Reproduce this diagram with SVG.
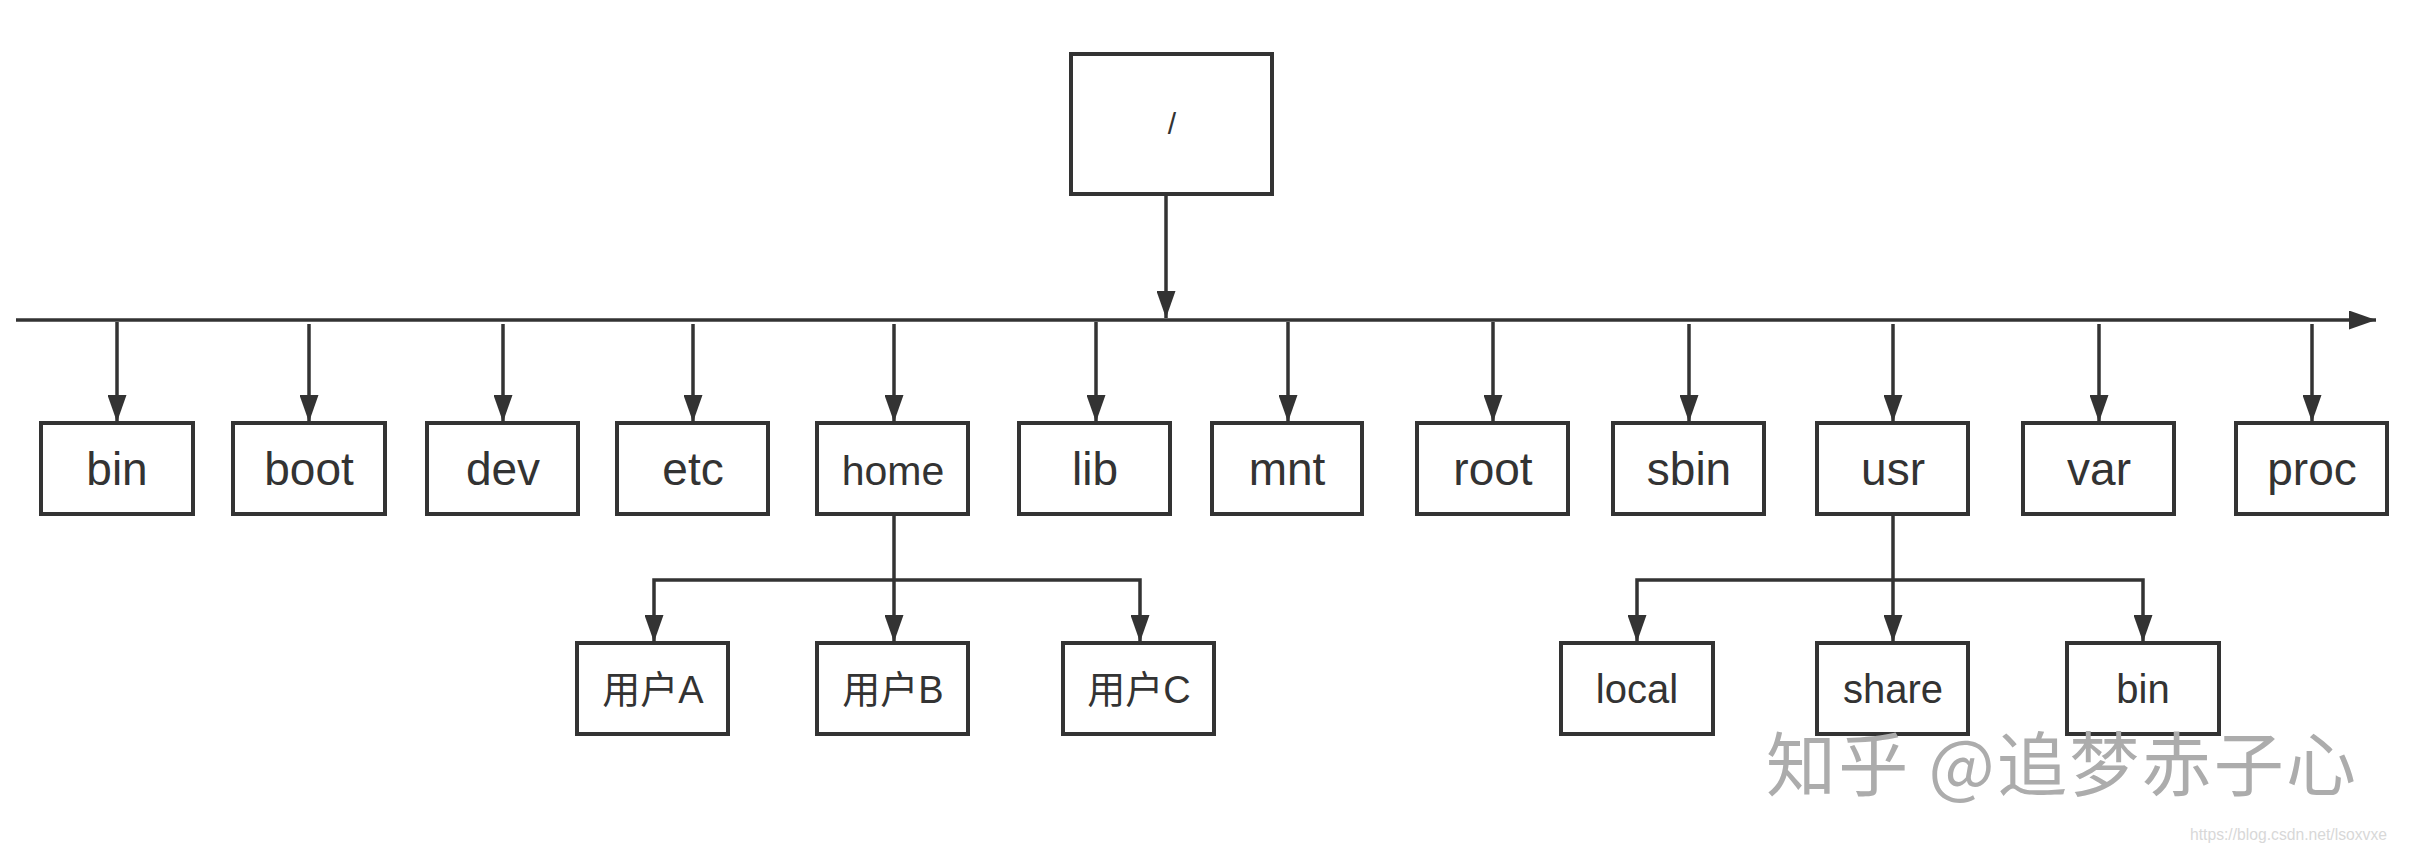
<svg xmlns="http://www.w3.org/2000/svg" width="2418" height="856" viewBox="0 0 2418 856">
<style>
.box{fill:#fff;stroke:#333;stroke-width:4}
.lbl{font-family:"Liberation Sans","Noto Sans CJK SC",sans-serif;fill:#333;text-anchor:middle}
.top{font-size:46px}
.sub{font-size:40px}
.cjk{font-size:38px}
.con{fill:none;stroke:#333;stroke-width:3.5}
.wm{font-family:"Noto Sans CJK SC","Liberation Sans",sans-serif;font-size:70px;fill:#acacac}
.url{font-family:"Liberation Sans",sans-serif;font-size:17px;fill:#d8d8d8}
</style>
<defs>
<marker id="arr" viewBox="0 0 27 19" refX="27" refY="9.5" markerWidth="27" markerHeight="19" markerUnits="userSpaceOnUse" orient="auto">
<path d="M0,0 L27,9.5 L0,19 z" fill="#333"/>
</marker>
</defs>
<rect width="2418" height="856" fill="#fff"/>
<g id="connectors">
<path class="con" d="M1166,196 V318" marker-end="url(#arr)"/>
<path class="con" d="M16,320 H2376" marker-end="url(#arr)"/>
<path class="con" d="M117,322 V422" marker-end="url(#arr)"/>
<path class="con" d="M309,324 V422" marker-end="url(#arr)"/>
<path class="con" d="M503,324 V422" marker-end="url(#arr)"/>
<path class="con" d="M693,324 V422" marker-end="url(#arr)"/>
<path class="con" d="M894,324 V422" marker-end="url(#arr)"/>
<path class="con" d="M1096,322 V422" marker-end="url(#arr)"/>
<path class="con" d="M1288,322 V422" marker-end="url(#arr)"/>
<path class="con" d="M1493,322 V422" marker-end="url(#arr)"/>
<path class="con" d="M1689,324 V422" marker-end="url(#arr)"/>
<path class="con" d="M1893,324 V422" marker-end="url(#arr)"/>
<path class="con" d="M2099,324 V422" marker-end="url(#arr)"/>
<path class="con" d="M2312,324 V422" marker-end="url(#arr)"/>
<path class="con" d="M894,516 V642" marker-end="url(#arr)"/>
<path class="con" d="M894,580 H654 V642" marker-end="url(#arr)"/>
<path class="con" d="M894,580 H1140 V642" marker-end="url(#arr)"/>
<path class="con" d="M1893,516 V642" marker-end="url(#arr)"/>
<path class="con" d="M1893,580 H1637 V642" marker-end="url(#arr)"/>
<path class="con" d="M1893,580 H2143 V642" marker-end="url(#arr)"/>
</g>
<g id="n-root"><rect class="box" x="1071" y="54" width="201" height="140"/><text class="lbl" x="1172" y="134" font-size="30">/</text></g>
<g id="n-bin"><rect class="box" x="41" y="423" width="152" height="91"/><text class="lbl top" x="117" y="485">bin</text></g>
<g id="n-boot"><rect class="box" x="233" y="423" width="152" height="91"/><text class="lbl top" x="309" y="485">boot</text></g>
<g id="n-dev"><rect class="box" x="427" y="423" width="151" height="91"/><text class="lbl top" x="503" y="485">dev</text></g>
<g id="n-etc"><rect class="box" x="617" y="423" width="151" height="91"/><text class="lbl top" x="693" y="485">etc</text></g>
<g id="n-home"><rect class="box" x="817" y="423" width="151" height="91"/><text class="lbl" x="893" y="485" font-size="41">home</text></g>
<g id="n-lib"><rect class="box" x="1019" y="423" width="151" height="91"/><text class="lbl top" x="1095" y="485">lib</text></g>
<g id="n-mnt"><rect class="box" x="1212" y="423" width="150" height="91"/><text class="lbl top" x="1287" y="485">mnt</text></g>
<g id="n-rootdir"><rect class="box" x="1417" y="423" width="151" height="91"/><text class="lbl top" x="1493" y="485">root</text></g>
<g id="n-sbin"><rect class="box" x="1613" y="423" width="151" height="91"/><text class="lbl top" x="1689" y="485">sbin</text></g>
<g id="n-usr"><rect class="box" x="1817" y="423" width="151" height="91"/><text class="lbl top" x="1893" y="485">usr</text></g>
<g id="n-var"><rect class="box" x="2023" y="423" width="151" height="91"/><text class="lbl top" x="2099" y="485">var</text></g>
<g id="n-proc"><rect class="box" x="2236" y="423" width="151" height="91"/><text class="lbl top" x="2312" y="485">proc</text></g>
<g id="n-userA"><rect class="box" x="577" y="643" width="151" height="91"/><text class="lbl cjk" x="653" y="703">用户A</text></g>
<g id="n-userB"><rect class="box" x="817" y="643" width="151" height="91"/><text class="lbl cjk" x="893" y="703">用户B</text></g>
<g id="n-userC"><rect class="box" x="1063" y="643" width="151" height="91"/><text class="lbl cjk" x="1139" y="703">用户C</text></g>
<g id="n-local"><rect class="box" x="1561" y="643" width="152" height="91"/><text class="lbl sub" x="1637" y="703">local</text></g>
<g id="n-share"><rect class="box" x="1817" y="643" width="151" height="91"/><text class="lbl sub" x="1893" y="703">share</text></g>
<g id="n-usrbin"><rect class="box" x="2067" y="643" width="152" height="91"/><text class="lbl sub" x="2143" y="703">bin</text></g>
<g id="watermark">
<text class="wm" x="1766" y="791" textLength="590" lengthAdjust="spacing">知乎 @追梦赤子心</text>
<text class="url" x="2190" y="840" textLength="197" lengthAdjust="spacingAndGlyphs">https://blog.csdn.net/lsoxvxe</text>
</g>
</svg>
